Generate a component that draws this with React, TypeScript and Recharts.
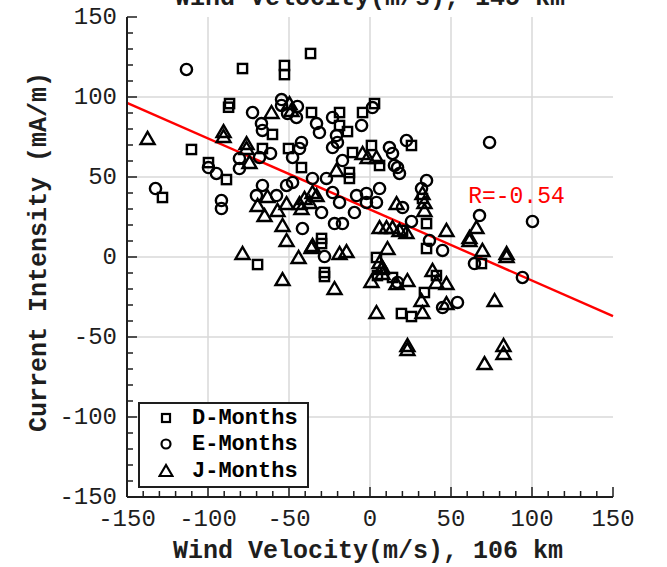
import React from "react";
import {
  ScatterChart,
  Scatter,
  XAxis,
  YAxis,
  CartesianGrid,
  ReferenceLine,
  ReferenceDot,
  Legend,
} from "recharts";

// D-Months
const dWind = [
  -36.7, -78.7, -52.8, -52.8, -87.3, -86.7, -110.2, -128.1, -99.7, -88.6, -66.4, -60.2, -50.3, -42.3, -36.1,
  -18.8, -13.9, -4.6, 2.8, -18.8, 0.9, 25.6, -10.8, -29.9, -29.9, -28.1, -28.1, -69.4, 4, 4.6, 13.9, 41, 33.6,
  19.4, 25.6, 68.8, 34.9, 32.4, 34.9, -12.7, -12.7, 5.9, 20.1,
];
const dCurrent = [
  127.2, 117.8, 119.7, 114, 93.6, 95.9, 67.2, 37.2, 59, 48.4, 67.8, 76.6, 67.8, 55.9, 90.3, 90.3, 78.4, 90.3,
  95.9, 82.2, 69.7, 69.7, 65.3, 11.6, 8.4, -9.7, -12.2, -4.7, -0.3, -11.6, -12.8, -11.6, -22.2, -35.3, -37.2,
  -4.1, 20.9, 36.6, 5.3, 52.8, 49.1, 57.2, 16.6,
];

// E-Months
const eWind = [
  -113.3, 73.8, 100.3, 94.1, -132.4, -91.7, -91.7, -80.6, -80.6, -99.7, -94.8, -72.5, -67, -66.4, -61.4, -68.2,
  -54.6, -54.6, -44.8, -50.9, -45.4, -42.3, -43.5, -47.8, -33, -31.2, -23.1, -20.7, -20.1, -23.1, -5.2, -35.5,
  -26.9, -17, -8.3, -2.2, -2.2, -41.7, -29.9, -21.9, -17, -9.6, -70.1, -57.7, -51.5, -47.8, -66.4, 1.5, 12,
  13.9, 15.1, 18.2, 22.5, 5.9, 4, 20.1, 25.6, 36.7, 44.8, 67.6, 34.9, 31.8, 64.5, 44.8, 54, 17, -28.1, -23.1,
  -18.8, 17,
];
const eCurrent = [
  117.2, 71.6, 22.2, -12.8, 42.8, 35.3, 30.3, 61.6, 55.3, 55.9, 52.2, 90.3, 83.4, 79.1, 64.7, 62.2, 98.4, 94.7,
  94.1, 89.7, 87.2, 71.6, 67.8, 62.2, 83.4, 77.8, 87.2, 75.9, 71.6, 68.4, 82.2, 49.1, 49.1, 60.3, 38.4, 39.7,
  34.1, 17.8, 27.8, 20.9, 20.9, 27.8, 38.4, 38.4, 44.7, 46.6, 44.7, 93.4, 68.4, 64.7, 57.2, 52.2, 72.8, 42.8,
  34.1, 30.9, 22.2, 10.3, 4.1, 25.9, 47.8, 42.8, -4.1, -31.6, -28.4, -15.9, 0.3, 40.3, 34.1, 55.9,
];

// J-Months
const jWind = [
  -137.3, -90.4, -90.4, -76.2, -76.2, -60.8, -49.7, -48.5, -74.4, -20.7, -4.6, -1.5, 4, -43.5, -40.4, -35.5, -33,
  -63.3, -69.4, -65.1, -57.1, -54, -51.5, -78.7, -54, -44.1, -36.1, -18.8, -14.5, -21.9, 0.9, 4, -42.3, 7.7, 7.7,
  23.1, 38.6, 41, 47.2, 31.8, 32.4, 47.2, 23.1, 23.1, 70.7, 82.4, 82.4, 76.9, 47.2, 61.4, 61.4, 65.7, 69.4, 84.3,
  84.3, 10.8, 5.9, 7.1, 33.6, 33.6, 10.2, 13.9, 5.9, 18.2, 16.4, -37.3, -35.5, 16.4, 32.4, -51.5, 22.5,
];
const jCurrent = [
  74.1, 78.4, 75.3, 70.9, 67.8, 90.3, 95.9, 91.6, 59.1, 54.1, 64.7, 62.2, 62.2, 33.4, 36.6, 40.3, 38.4, 37.8,
  32.2, 25.9, 29.1, 19.7, 10.3, 2.2, -14.1, -0.3, 5.9, 2.2, 3.4, -19.7, -15.3, -34.7, 30.3, -10.3, -6.6, -14.7,
  -8.4, -15.9, -16.6, -27.2, -34.7, -29.1, -55.3, -57.8, -66.6, -55.3, -60.3, -27.2, 16.6, 12.2, 10.3, 18.4,
  4.1, 2.2, 0.3, 5.3, -3.4, -7.2, 34.1, 29.1, 18.4, 18.4, 18.4, 16.6, 33.4, 34.1, 7.2, -16.6, 39.7, 33.4, 15.3,
];

// least-squares fit drawn across the full wind range
const fitStart = { wind: -150, current: 96.3 };
const fitEnd = { wind: 150, current: -36.9 };
const corrText = "R=-0.54";

const axisTicks = [
  -150, -140, -130, -120, -110, -100, -90, -80, -70, -60, -50, -40, -30, -20, -10, 0, 10, 20, 30, 40, 50, 60,
  70, 80, 90, 100, 110, 120, 130, 140, 150,
];
const labelTicks = [-150, -100, -50, 0, 50, 100, 150];
const gridValues = [-100, -50, 0, 50, 100];

const toPoints = (wind: number[], current: number[]) => wind.map((w, i) => ({ wind: w, current: current[i] }));
const dPoints = toPoints(dWind, dCurrent);
const ePoints = toPoints(eWind, eCurrent);
const jPoints = toPoints(jWind, jCurrent);

const MONO = "'Liberation Mono', 'DejaVu Sans Mono', monospace";
const INK = "#1e1e1e";
const MARK_W = 2.4;

const tickLen = (v: number) => (labelTicks.includes(v) ? 10 : 6);

const BottomTick = (p: any) => {
  const v = p.payload.value;
  return (
    <g>
      <line x1={p.x} x2={p.x} y1={p.y} y2={p.y - tickLen(v)} stroke={INK} strokeWidth={1.5} />
      {labelTicks.includes(v) && (
        <text x={p.x} y={p.y + 29} textAnchor="middle" fontFamily={MONO} fontSize={24} fill={INK}>
          {v}
        </text>
      )}
    </g>
  );
};

const TopTick = (p: any) => (
  <line x1={p.x} x2={p.x} y1={p.y} y2={p.y + tickLen(p.payload.value)} stroke={INK} strokeWidth={1.5} />
);

const LeftTick = (p: any) => {
  const v = p.payload.value;
  return (
    <g>
      <line x1={p.x} x2={p.x + tickLen(v)} y1={p.y} y2={p.y} stroke={INK} strokeWidth={1.5} />
      {labelTicks.includes(v) && (
        <text x={p.x - 10} y={p.y + 7} textAnchor="end" fontFamily={MONO} fontSize={24} fill={INK}>
          {v}
        </text>
      )}
    </g>
  );
};

const RightTick = (p: any) => (
  <line x1={p.x} x2={p.x - tickLen(p.payload.value)} y1={p.y} y2={p.y} stroke={INK} strokeWidth={1.5} />
);

const SquareMark = (p: any) => (
  <rect x={p.cx - 4.6} y={p.cy - 4.6} width={9.2} height={9.2} fill="none" stroke="#000" strokeWidth={MARK_W} />
);
const CircleMark = (p: any) => (
  <circle cx={p.cx} cy={p.cy} r={5.6} fill="none" stroke="#000" strokeWidth={MARK_W} />
);
const TriangleMark = (p: any) => (
  <polygon
    points={`${p.cx},${p.cy - 6.5} ${p.cx - 7},${p.cy + 5.5} ${p.cx + 7},${p.cy + 5.5}`}
    fill="none"
    stroke="#000"
    strokeWidth={MARK_W}
  />
);

const legendIcons: Record<string, React.ReactNode> = {
  "D-Months": <rect x={4} y={4} width={8} height={8} fill="none" stroke="#000" strokeWidth={2.2} />,
  "E-Months": <circle cx={8} cy={8} r={4.5} fill="none" stroke="#000" strokeWidth={2.2} />,
  "J-Months": <polygon points="8,2 1.5,13 14.5,13" fill="none" stroke="#000" strokeWidth={2.2} />,
};

const renderLegend = (props: any) => {
  const items = (props.payload || []).filter((e: any) => legendIcons[e.value]);
  return (
    <div
      style={{
        position: "relative",
        width: 171,
        height: 86,
        boxSizing: "border-box",
        border: `2px solid ${INK}`,
        background: "#fff",
      }}
    >
      {items.map((e: any, i: number) => (
        <div
          key={e.value}
          style={{
            position: "absolute",
            left: 18,
            top: [14, 40, 67][i] - 13,
            height: 26,
            display: "flex",
            alignItems: "center",
          }}
        >
          <svg width={16} height={16}>
            {legendIcons[e.value]}
          </svg>
          <span
            style={{
              marginLeft: 18,
              fontFamily: MONO,
              fontWeight: "bold",
              fontSize: 22,
              color: "#000",
              whiteSpace: "nowrap",
            }}
          >
            {e.value}
          </span>
        </div>
      ))}
    </div>
  );
};

// bottom axis title plus the upper-altitude title that sits above the frame
const xTitles = () => (
  <g fontFamily={MONO} fontWeight="bold" fontSize={25} fill={INK} textAnchor="middle">
    <text x={368} y={558}>Wind Velocity(m/s), 106 km</text>
    <text x={370} y={5}>Wind Velocity(m/s), 145 km</text>
  </g>
);

export default function App() {
  return (
    <div style={{ position: "absolute", left: 0, top: 0, width: 667, height: 567, background: "#fff" }}>
      <ScatterChart width={667} height={567} margin={{ top: 17, right: 54, bottom: 0, left: 0 }}>
        <CartesianGrid
          stroke="#d8d8d8"
          strokeWidth={1.5}
          verticalValues={gridValues}
          horizontalValues={gridValues}
        />
        <XAxis
          type="number"
          dataKey="wind"
          domain={[-150, 150]}
          allowDataOverflow
          ticks={axisTicks}
          interval={0}
          tickSize={0}
          tickMargin={0}
          tickLine={false}
          tick={BottomTick}
          height={70}
          axisLine={{ stroke: INK, strokeWidth: 2 }}
          label={{ value: "Wind Velocity(m/s), 106 km", content: xTitles }}
        />
        <XAxis
          xAxisId="top"
          orientation="top"
          type="number"
          domain={[-150, 150]}
          allowDataOverflow
          ticks={axisTicks}
          interval={0}
          tickSize={0}
          tickMargin={0}
          tickLine={false}
          tick={TopTick}
          height={0}
          axisLine={{ stroke: INK, strokeWidth: 2 }}
        />
        <YAxis
          type="number"
          dataKey="current"
          domain={[-150, 150]}
          allowDataOverflow
          ticks={axisTicks}
          interval={0}
          tickSize={0}
          tickMargin={0}
          tickLine={false}
          tick={LeftTick}
          width={127}
          axisLine={{ stroke: INK, strokeWidth: 2 }}
          label={{
            value: "Current Intensity (mA/m)",
            content: () => (
              <text
                transform="translate(46,252) rotate(-90)"
                textAnchor="middle"
                fontFamily={MONO}
                fontWeight="bold"
                fontSize={25}
                fill={INK}
              >
                Current Intensity (mA/m)
              </text>
            ),
          }}
        />
        <YAxis
          yAxisId="right"
          orientation="right"
          type="number"
          domain={[-150, 150]}
          allowDataOverflow
          ticks={axisTicks}
          interval={0}
          tickSize={0}
          tickMargin={0}
          tickLine={false}
          tick={RightTick}
          width={0}
          axisLine={{ stroke: INK, strokeWidth: 2 }}
        />
        <ReferenceLine
          segment={[
            { x: fitStart.wind, y: fitStart.current },
            { x: fitEnd.wind, y: fitEnd.current },
          ]}
          stroke="#ff0000"
          strokeWidth={2.4}
        />
        <Scatter name="D-Months" data={dPoints} shape={SquareMark} isAnimationActive={false} />
        <Scatter name="E-Months" data={ePoints} shape={CircleMark} isAnimationActive={false} />
        <Scatter name="J-Months" data={jPoints} shape={TriangleMark} isAnimationActive={false} />
        <ReferenceDot
          x={90.4}
          y={39}
          r={0}
          fill="none"
          stroke="none"
          label={{ value: corrText, fill: "#ff0000", fontFamily: MONO, fontSize: 23 }}
        />
        <Legend
          layout="vertical"
          align="center"
          verticalAlign="middle"
          content={renderLegend}
          wrapperStyle={{ left: 138, top: 402, width: 171, height: 86 }}
        />
      </ScatterChart>
    </div>
  );
}
